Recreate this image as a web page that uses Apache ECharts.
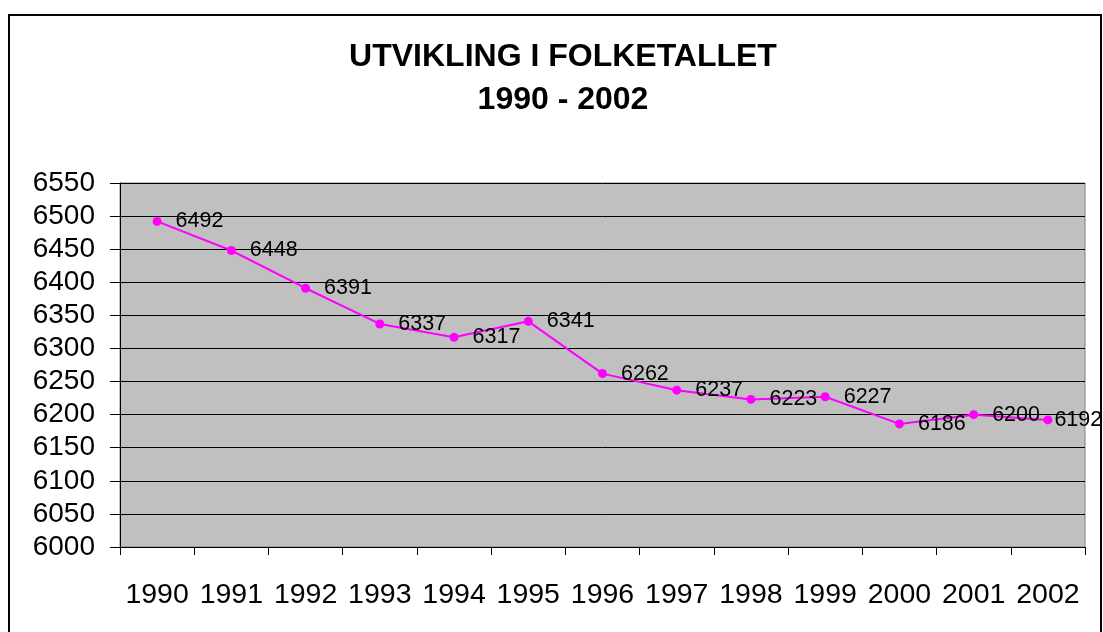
<!DOCTYPE html>
<html>
<head>
<meta charset="utf-8">
<script src="https://cdn.jsdelivr.net/npm/echarts@6/dist/echarts.min.js"></script>
<style>
html,body{margin:0;padding:0;background:#fff;}
#chart{width:1103px;height:632px;}
</style>
</head>
<body>
<div id="chart"></div>
<script>
var years = ['1990','1991','1992','1993','1994','1995','1996','1997','1998','1999','2000','2001','2002'];
var population = [6492, 6448, 6391, 6337, 6317, 6341, 6262, 6237, 6223, 6227, 6186, 6200, 6192];
var titleLines = ['UTVIKLING I FOLKETALLET', '1990 - 2002'];

var FONT = '"Liberation Sans", Arial, sans-serif';
var chart = echarts.init(document.getElementById('chart'));

var seriesData = population.map(function (v, i) {
  if (i === population.length - 1) {
    return { value: v, label: { distance: 2 } };
  }
  return v;
});

chart.setOption({
  animation: false,
  backgroundColor: '#ffffff',
  title: {
    text: titleLines.join('\n'),
    left: 558,
    top: 31,
    textAlign: 'center',
    textStyle: {
      fontFamily: FONT,
      fontWeight: 'bold',
      fontSize: 32,
      lineHeight: 43,
      color: '#000'
    }
  },
  graphic: [{
    type: 'rect',
    silent: true,
    shape: { x: 9, y: 15, width: 1092, height: 700 },
    style: { fill: 'none', stroke: '#000', lineWidth: 2 }
  }],
  grid: {
    left: 120,
    right: 18,
    top: 183,
    bottom: 85,
    show: true,
    backgroundColor: '#C0C0C0',
    borderColor: '#808080',
    borderWidth: 1
  },
  xAxis: {
    type: 'category',
    data: years,
    boundaryGap: true,
    axisLine: { show: true, lineStyle: { color: '#000', width: 1 } },
    axisTick: { show: true, length: 8, lineStyle: { color: '#000' } },
    axisLabel: {
      margin: 34,
      fontFamily: FONT,
      fontSize: 28.5,
      color: '#000',
      interval: 0
    },
    splitLine: { show: false }
  },
  yAxis: {
    type: 'value',
    min: 6000,
    max: 6550,
    interval: 50,
    axisLine: { show: true, lineStyle: { color: '#000', width: 1 } },
    axisTick: { show: true, length: 10, lineStyle: { color: '#000' } },
    axisLabel: {
      margin: 25,
      fontFamily: FONT,
      fontSize: 28,
      color: '#000',
      formatter: function (v) { return String(v); }
    },
    splitLine: { show: true, lineStyle: { color: '#000', width: 1 } }
  },
  series: [{
    type: 'line',
    data: seriesData,
    symbol: 'circle',
    symbolSize: 9,
    lineStyle: { color: '#FF00FF', width: 2 },
    itemStyle: { color: '#FF00FF' },
    label: {
      show: true,
      position: 'right',
      distance: 14,
      fontFamily: FONT,
      fontSize: 21.5,
      color: '#000'
    },
    z: 5
  }]
});
</script>
</body>
</html>
